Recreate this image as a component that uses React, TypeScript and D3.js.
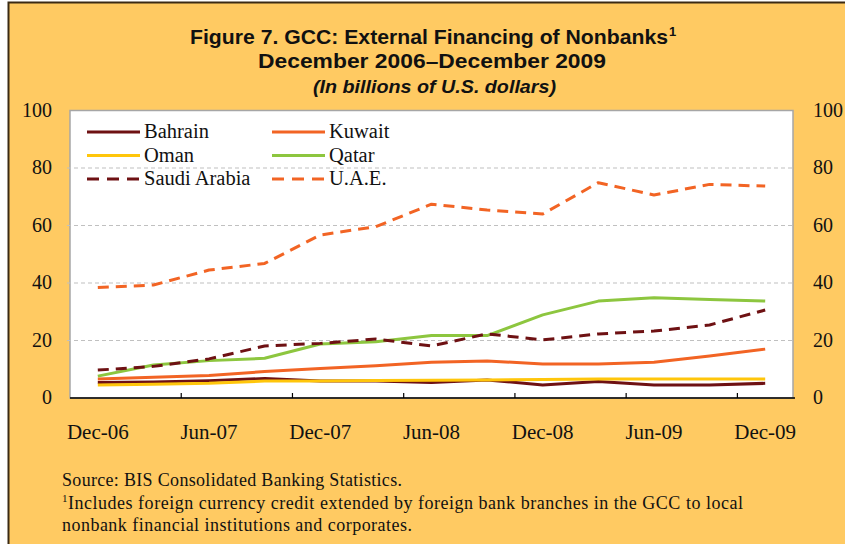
import React, { useRef, useEffect } from 'react';
import * as d3 from 'd3';

const quarters = ['Dec-06', 'Mar-07', 'Jun-07', 'Sep-07', 'Dec-07', 'Mar-08', 'Jun-08', 'Sep-08', 'Dec-08', 'Mar-09', 'Jun-09', 'Sep-09', 'Dec-09'];
const bahrain = [5.4, 5.6, 6.0, 6.8, 5.9, 5.9, 5.4, 6.3, 4.5, 5.7, 4.5, 4.5, 5.1];
const kuwait = [6.6, 7.2, 7.8, 9.2, 10.3, 11.2, 12.4, 12.9, 11.8, 11.8, 12.4, 14.6, 17.0];
const oman = [4.5, 4.8, 5.1, 5.9, 5.9, 6.1, 6.2, 6.3, 6.4, 6.6, 6.6, 6.6, 6.6];
const qatar = [7.6, 11.5, 13.0, 13.8, 18.8, 19.6, 21.7, 21.7, 28.9, 33.7, 34.9, 34.3, 33.7];
const saudi = [9.7, 11.0, 13.6, 18.1, 19.0, 20.5, 18.1, 22.3, 20.2, 22.3, 23.3, 25.4, 30.6];
const uae = [38.4, 39.3, 44.5, 46.8, 56.7, 59.6, 67.4, 65.4, 64.0, 74.9, 70.6, 74.3, 73.7];
const yTicks = [0, 20, 40, 60, 80, 100];

const seriesList = [
  { name: 'Bahrain', values: bahrain, color: '#6E1113', dash: null },
  { name: 'Kuwait', values: kuwait, color: '#F26424', dash: null },
  { name: 'Oman', values: oman, color: '#FFC60B', dash: null },
  { name: 'Qatar', values: qatar, color: '#8DC63F', dash: null },
  { name: 'Saudi Arabia', values: saudi, color: '#6E1113', dash: '11 7' },
  { name: 'U.A.E.', values: uae, color: '#F26424', dash: '11 7' },
];

const W = 845;
const H = 544;
const serif = "'Liberation Serif', 'Times New Roman', serif";
const sans = "'Liberation Sans', Arial, sans-serif";

const App = () => {
  const svgRef = useRef<SVGSVGElement>(null);

  useEffect(() => {
    const svg = d3.select(svgRef.current);
    svg.selectAll('*').remove();

    const left = 70, right = 793, top = 110.5, bottom = 398;

    const x = d3.scaleBand().domain(quarters).range([left, right]);
    const xc = (q: string) => (x(q) as number) + x.bandwidth() / 2;
    const y = d3.scaleLinear().domain([0, 100]).range([bottom, top]);

    // background + frame
    svg.append('rect').attr('width', W).attr('height', H).attr('fill', '#fff');
    svg.append('rect')
      .attr('x', 8.5).attr('y', 2.5).attr('width', 900).attr('height', 600)
      .attr('fill', '#FFCA62').attr('stroke', '#3b2a14').attr('stroke-width', 2);

    // title (condensed look via textLength)
    const title = svg.append('g').attr('font-family', sans)
      .attr('font-weight', 'bold').attr('fill', '#111');
    title.append('text').attr('x', 190).attr('y', 44).attr('font-size', 21)
      .attr('textLength', 478).attr('lengthAdjust', 'spacingAndGlyphs')
      .text('Figure 7. GCC: External Financing of Nonbanks');
    title.append('text').attr('x', 669).attr('y', 36).attr('font-size', 13).text('1');
    title.append('text').attr('x', 258).attr('y', 68).attr('font-size', 21)
      .attr('textLength', 348).attr('lengthAdjust', 'spacingAndGlyphs')
      .text('December 2006\u2013December  2009');
    title.append('text').attr('x', 313).attr('y', 93).attr('font-size', 19)
      .attr('font-style', 'italic')
      .attr('textLength', 243).attr('lengthAdjust', 'spacingAndGlyphs')
      .text('(In billions of U.S. dollars)');

    // plot area
    svg.append('rect')
      .attr('x', left).attr('y', top).attr('width', right - left).attr('height', bottom - top)
      .attr('fill', '#fff').attr('stroke', '#a6a6a6').attr('stroke-width', 1.5);

    svg.append('g').selectAll('line')
      .data(yTicks.filter(d => d > 0 && d < 100))
      .enter().append('line')
      .attr('x1', left - 3).attr('x2', right)
      .attr('y1', d => y(d)).attr('y2', d => y(d))
      .attr('stroke', '#c0c0c0').attr('stroke-width', 1.2).attr('stroke-dasharray', '4 3');

    // y labels both sides
    const yl = svg.append('g').attr('font-family', serif).attr('font-size', 20).attr('fill', '#111');
    yl.selectAll('.yl').data(yTicks).enter().append('text')
      .attr('x', 52).attr('y', d => y(d) + 6).attr('text-anchor', 'end').text(d => d);
    yl.selectAll('.yr').data(yTicks).enter().append('text')
      .attr('x', 813).attr('y', d => y(d) + 6).attr('text-anchor', 'start').text(d => d);

    // x axis
    svg.append('line').attr('x1', left).attr('x2', right + 2).attr('y1', bottom).attr('y2', bottom)
      .attr('stroke', '#000').attr('stroke-width', 1.5);
    svg.append('g').selectAll('line')
      .data(quarters.filter((q, i) => i > 0 && i % 2 === 0))
      .enter().append('line')
      .attr('x1', d => x(d) as number).attr('x2', d => x(d) as number)
      .attr('y1', bottom - 5).attr('y2', bottom)
      .attr('stroke', '#000').attr('stroke-width', 1.2);
    svg.append('g').attr('font-family', serif).attr('font-size', 21).attr('fill', '#111')
      .selectAll('text')
      .data(quarters.filter((q, i) => i % 2 === 0))
      .enter().append('text')
      .attr('x', d => xc(d)).attr('y', 439).attr('text-anchor', 'middle').text(d => d);

    // lines
    const line = d3.line<number>()
      .x((d, i) => xc(quarters[i]))
      .y(d => y(d));
    seriesList.forEach(s => {
      svg.append('path')
        .datum(s.values)
        .attr('d', line)
        .attr('fill', 'none')
        .attr('stroke', s.color)
        .attr('stroke-width', 3)
        .attr('stroke-dasharray', s.dash)
        .attr('stroke-linejoin', 'round');
    });

    // legend
    const lg = svg.append('g').attr('font-family', serif).attr('font-size', 20.5).attr('fill', '#111');
    seriesList.forEach((s, i) => {
      const col = i % 2, row = Math.floor(i / 2);
      const lx = col === 0 ? 87 : 272;
      const ly = 132 + row * 23.5;
      lg.append('line')
        .attr('x1', lx).attr('x2', lx + 53).attr('y1', ly).attr('y2', ly)
        .attr('stroke', s.color).attr('stroke-width', 3)
        .attr('stroke-dasharray', s.dash ? '12 8' : null);
      lg.append('text').attr('x', lx + 57).attr('y', ly + 6).text(s.name);
    });

    // footnotes
    const fn = svg.append('g').attr('font-family', serif).attr('font-size', 18).attr('fill', '#111');
    fn.append('text').attr('x', 62).attr('y', 486).attr('textLength', 340)
      .text('Source:  BIS Consolidated Banking Statistics.');
    fn.append('text').attr('x', 62).attr('y', 502).attr('font-size', 11).text('1');
    fn.append('text').attr('x', 68).attr('y', 509).attr('textLength', 675)
      .text('Includes foreign currency credit extended by foreign bank branches in the GCC to local');
    fn.append('text').attr('x', 62).attr('y', 531).attr('textLength', 350)
      .text('nonbank financial institutions and corporates.');
  }, []);

  return (
    <svg ref={svgRef} width={W} height={H}
      style={{ position: 'absolute', left: 0, top: 0, display: 'block' }} />
  );
};

export default App;
